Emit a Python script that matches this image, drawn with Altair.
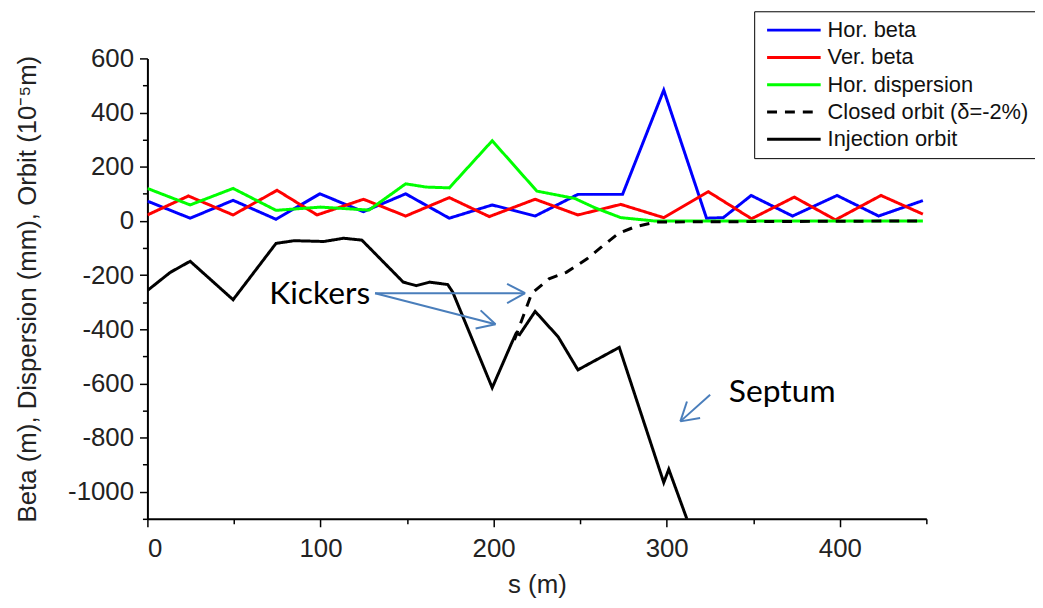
import altair as alt
import pandas as pd

# ---- data ----
s_hbeta = [0, 24.7, 49.5, 74.3, 99.6, 124.8, 149.2, 174.4, 199.2, 224, 248.7, 274.5, 298.3, 323, 332.7, 348.8, 372.7, 398.4, 422.4, 448]
hbeta = [73, 10, 76, 6, 100, 34, 100, 10, 59, 18, 98, 98, 483, 10, 12, 94, 18, 94, 18, 75]

s_vbeta = [0, 23.7, 49.5, 74.9, 98, 124.8, 149.2, 174.4, 197.5, 224, 248.7, 273.5, 298.3, 324, 349, 373.7, 397.5, 423.8, 448]
vbeta = [22, 92, 22, 113, 22, 80, 18, 86, 16, 80, 22, 61, 12, 108, 8, 88, 4, 94, 25]

s_disp = [0, 24.7, 49.5, 74.3, 100, 128, 149.2, 161, 174.4, 199.2, 225, 246.9, 258.3, 273.5, 292.6, 448]
disp = [120, 59, 120, 39, 51, 40, 137, 125, 122, 296, 110, 83, 49, 12, 0, 0]

s_co = [212, 222, 232, 242, 254, 262, 272, 282, 294, 448]
co = [-440, -268, -214, -190, -140, -98, -47, -21, -4, 0]

s_inj = [0, 13.2, 24.7, 49.5, 74.3, 84.8, 101.9, 113.4, 123.9, 147.8, 155.3, 163, 173.5, 176.4,
         199.2, 210.5, 213, 215, 224, 237.3, 248.7, 272.6, 298.3, 301.2, 311.7]
inj = [-257, -190, -149, -291, -83, -73, -76, -64, -71, -226, -239, -226, -235, -263,
       -616, -450, -415, -420, -334, -428, -550, -467, -966, -917, -1101]

series_names = ["Hor. beta", "Ver. beta", "Hor. dispersion", "Closed orbit (\u03b4=-2%)", "Injection orbit"]
series_colors = ["#0000ff", "#ff0000", "#00ff00", "#000000", "#000000"]
series_dash = [[1, 0], [1, 0], [1, 0], [10, 8], [1, 0]]

# annotations (data units)
ann_text = ["Kickers", "Septum"]
ann_x = [99.5, 366.7]
ann_y = [-271.6, -631]

arrow_x = [131.5, 207.8, 207.8, 131.5, 192.5, 189.6, 325.1, 311.7, 319.3]
arrow_y = [-266.8, -232.3, -303.5, -266.8, -330.3, -397.4, -642.2, -666.8, -727.7]
arrow_x2 = [218.2, 218.2, 218.2, 201.1, 201.1, 201.1, 307.9, 307.9, 307.9]
arrow_y2 = [-266.8, -266.8, -266.8, -381.7, -381.7, -381.7, -740.2, -740.2, -740.2]

# ---- build tables ----
rows = []
for name, xs, ys in zip(series_names, [s_hbeta, s_vbeta, s_disp, s_co, s_inj], [hbeta, vbeta, disp, co, inj]):
    for i, (a, b) in enumerate(zip(xs, ys)):
        rows.append({"series": name, "s": a, "v": b, "order": i})
df = pd.DataFrame(rows)

ann_df = pd.DataFrame({"t": ann_text, "x": ann_x, "y": ann_y})
arr_df = pd.DataFrame({"x": arrow_x, "y": arrow_y, "x2": arrow_x2, "y2": arrow_y2})

FONT = "Liberation Sans"
xscale = alt.Scale(domain=[0, 450], nice=False, zero=False)
yscale = alt.Scale(domain=[-1100, 600], nice=False, zero=False)

x_axis = alt.Axis(
    title="s (m)", values=list(range(0, 451, 50)),
    labelExpr="datum.value % 100 === 0 ? '' + datum.value : ''",
    tickSize={"condition": {"test": "datum.value % 100 === 0", "value": 8}, "value": 5},
    grid=False, domainColor="#000", domainWidth=2, tickColor="#000", tickWidth=1.5,
    labelFont=FONT, labelFontSize=26, labelColor="#222", labelPadding=9,
    titleFont=FONT, titleFontSize=26, titleFontWeight="normal", titleColor="#222", titlePadding=10,
)
y_axis = alt.Axis(
    title="Beta (m), Dispersion (mm), Orbit (10\u207b\u2075m)", values=list(range(-1100, 601, 100)),
    labelExpr="datum.value % 200 === 0 ? '' + datum.value : ''",
    tickSize={"condition": {"test": "datum.value % 200 === 0", "value": 8}, "value": 5},
    grid=False, domainColor="#000", domainWidth=2, tickColor="#000", tickWidth=1.5,
    labelFont=FONT, labelFontSize=26, labelColor="#222", labelPadding=6,
    titleFont=FONT, titleFontSize=26, titleFontWeight="normal", titleColor="#222", titlePadding=27,
)

lines = alt.Chart(df).mark_line(strokeWidth=3, clip=True).encode(
    x=alt.X("s:Q", scale=xscale, axis=x_axis),
    y=alt.Y("v:Q", scale=yscale, axis=y_axis),
    color=alt.Color("series:N", scale=alt.Scale(domain=series_names, range=series_colors),
                    sort=series_names,
                    legend=alt.Legend(
                        title=None, orient="none", legendX=611.5, legendY=-47.5,
                        symbolType="M-3,0H3", symbolSize=324, symbolStrokeWidth=3,
                        symbolOffset=21,
                        labelFont=FONT, labelFontSize=22, labelColor="#111", labelLimit=400,
                        labelOffset=23, rowPadding=5.5, padding=8,
                        strokeColor="#000", fillColor="#fff",
                    )),
    strokeDash=alt.StrokeDash("series:N", scale=alt.Scale(domain=series_names, range=series_dash),
                              sort=series_names, legend=None),
    detail="series:N",
    order="order:Q",
)

arrows = alt.Chart(arr_df).mark_rule(color="#4a7ebb", strokeWidth=2).encode(
    x=alt.X("x:Q", scale=xscale, axis=x_axis), y=alt.Y("y:Q", scale=yscale, axis=y_axis),
    x2="x2:Q", y2="y2:Q",
)

texts = alt.Chart(ann_df).mark_text(font="Lato", fontSize=32, color="#000", align="center", baseline="middle").encode(
    x=alt.X("x:Q", scale=xscale, axis=x_axis), y=alt.Y("y:Q", scale=yscale, axis=y_axis), text="t:N",
)

chart = alt.layer(lines, arrows, texts).properties(
    width=785, height=464,
    autosize=alt.AutoSizeParams(type="none"),
    padding={"left": 140.5, "top": 48.5, "right": 109.5, "bottom": 79.5},
).configure_view(stroke=None)

chart.save("out.html", embed_options={"renderer": "svg", "actions": False})
